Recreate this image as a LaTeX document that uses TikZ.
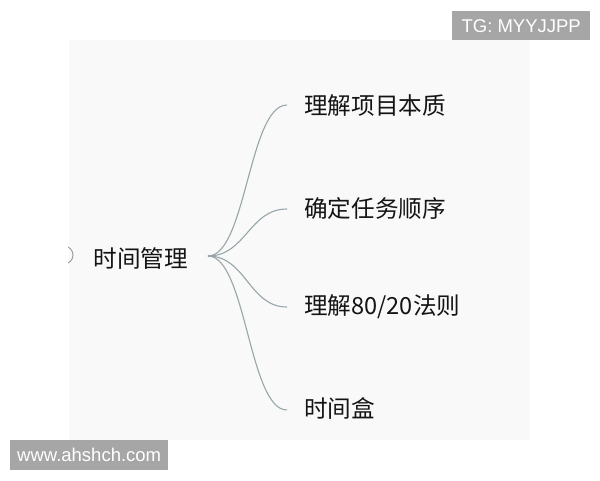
\documentclass[tikz,border=0pt]{standalone}
\usepackage{fontspec}
\setmainfont{Liberation Sans}
\newfontfamily\cjk{Noto Sans CJK SC}
\definecolor{branchc}{HTML}{98A6AA}
\begin{document}
\begin{tikzpicture}[x=1pt,y=-1pt,
  txt/.style={font=\cjk\fontsize{23.6}{26}\selectfont, text=black!92, inner sep=0pt},
  branch/.style={draw=branchc, line width=1.1pt},
  wmark/.style={fill=black!35, text=white, inner sep=0pt, font=\fontsize{18.5}{21}\selectfont}]
\useasboundingbox (0,0) rectangle (600,480);
\fill[white] (0,0) rectangle (600,480);
\fill[black!2.5] (69,40) rectangle (530,440);
% partial collapse icon
\begin{scope}
\clip (68,230) rectangle (90,280);
\draw[gray!75, line width=1pt] (64,255) circle (9);
\end{scope}
\node[txt, anchor=east] (root) at (188,258) {时间管理};
\coordinate (r0) at (208,256);
\node[txt, anchor=west] (c1) at (304,106) {理解项目本质};
\node[txt, anchor=west] (c2) at (304,208) {确定任务顺序};
\node[txt, anchor=west] (c3) at (304,307) {理解80/20法则};
\node[txt, anchor=west] (c4) at (304,408) {时间盒};
\coordinate (e1) at ([xshift=-17pt,yshift=1pt]c1.west);
\coordinate (e2) at ([xshift=-17pt,yshift=-1pt]c2.west);
\coordinate (e3) at ([xshift=-17pt]c3.west);
\coordinate (e4) at ([xshift=-17pt,yshift=-2pt]c4.west);
\foreach \e in {e1,e2,e3,e4}
  \draw[branch] (r0) .. controls +(38,0) and +(-38,0) .. (\e);
\node[wmark, minimum width=138pt, minimum height=29pt, anchor=north west] (tg) at (452,11) {TG: MYYJJPP};
\node[wmark, minimum width=158pt, minimum height=30pt, anchor=north west] (www) at (10,440) {www.ahshch.com};
\end{tikzpicture}
\end{document}
